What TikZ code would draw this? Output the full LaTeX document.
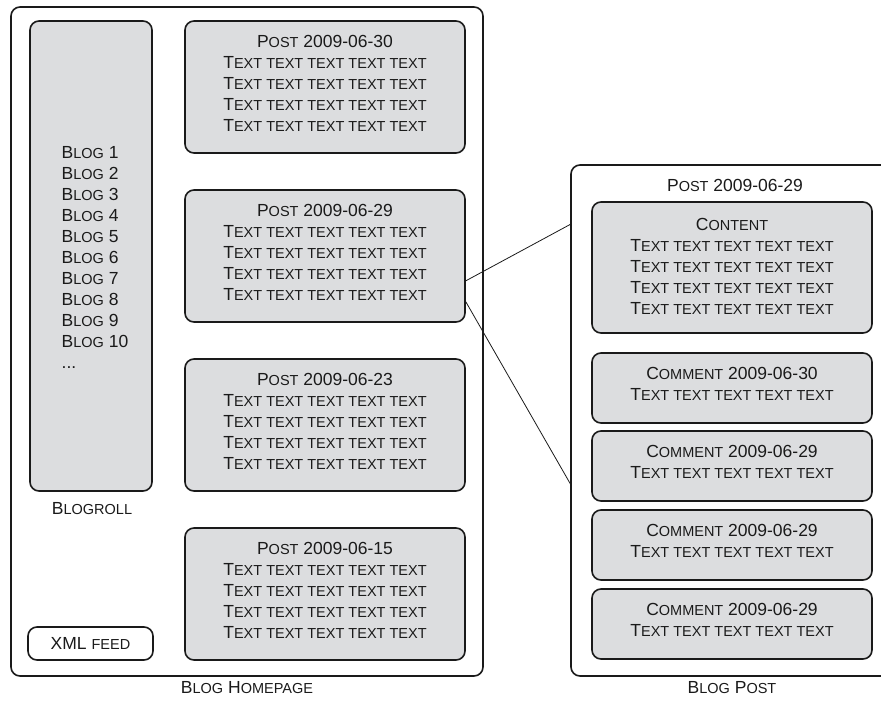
\documentclass[tikz,border=0pt]{standalone}
\usepackage{fontspec}
\setmainfont{Liberation Sans}
\definecolor{boxfill}{RGB}{220,221,223}
\definecolor{ink}{RGB}{26,26,26}
\newcommand{\smc}[1]{{\fontsize{14.5}{21}\selectfont #1}}
\newcommand{\txtline}{T\smc{EXT TEXT TEXT TEXT TEXT}}
\tikzset{
  outerbox/.style={draw=ink, line width=1.6pt, rounded corners=9pt},
  panel/.style={draw=ink, fill=boxfill, line width=1.6pt, rounded corners=9pt, align=center, inner sep=0pt, text depth=8pt},
  caption/.style={inner sep=0pt, align=center},
}
\begin{document}
\begin{tikzpicture}[x=1pt,y=1pt,yscale=-1,xscale=1,font=\fontsize{17.5}{21}\selectfont,text=ink]
\useasboundingbox (0,0) rectangle (881,704);

%Rounded Rect (homepage frame)
\draw [outerbox] (11,7) rectangle (483,676);
%Rounded Rect (post frame)
\draw [outerbox] (571,165) rectangle (895,676);

%Blogroll
\node [panel, minimum width=122pt, minimum height=470pt] (roll) at (91,256) {};
\node [caption, align=left] (rolllist) at (95,257) {B\smc{LOG} 1\\B\smc{LOG} 2\\B\smc{LOG} 3\\B\smc{LOG} 4\\B\smc{LOG} 5\\B\smc{LOG} 6\\B\smc{LOG} 7\\B\smc{LOG} 8\\B\smc{LOG} 9\\B\smc{LOG} 10\\...};
\node [caption] (rolllabel) at (92,509) {B\smc{LOGROLL}};
\node [panel, fill=white, text depth=, minimum width=125pt, minimum height=33pt] (feed) at (90.5,643.5) {XML \smc{FEED}};

%Posts
\node [panel, minimum width=280pt, minimum height=132pt] (post1) at (325,87) {P\smc{OST} 2009-06-30\\\txtline\\\txtline\\\txtline\\\txtline};
\node [panel, minimum width=280pt, minimum height=132pt] (post2) at (325,256) {P\smc{OST} 2009-06-29\\\txtline\\\txtline\\\txtline\\\txtline};
\node [panel, minimum width=280pt, minimum height=132pt] (post3) at (325,425) {P\smc{OST} 2009-06-23\\\txtline\\\txtline\\\txtline\\\txtline};
\node [panel, minimum width=280pt, minimum height=132pt] (post4) at (325,594) {P\smc{OST} 2009-06-15\\\txtline\\\txtline\\\txtline\\\txtline};
\node [caption] (homelabel) at (247,688) {B\smc{LOG} H\smc{OMEPAGE}};

%Blog post page
\node [caption] (posttitle) at (735,185) {P\smc{OST} 2009-06-29};
\node [panel, text depth=3pt, minimum width=280pt, minimum height=131pt] (content) at (732,267.5) {C\smc{ONTENT}\\\txtline\\\txtline\\\txtline\\\txtline};
\node [panel, minimum width=280pt, minimum height=70pt] (comment1) at (732,388) {C\smc{OMMENT} 2009-06-30\\\txtline};
\node [panel, minimum width=280pt, minimum height=70pt] (comment2) at (732,466) {C\smc{OMMENT} 2009-06-29\\\txtline};
\node [panel, minimum width=280pt, minimum height=70pt] (comment3) at (732,545) {C\smc{OMMENT} 2009-06-29\\\txtline};
\node [panel, minimum width=280pt, minimum height=70pt] (comment4) at (732,624) {C\smc{OMMENT} 2009-06-29\\\txtline};
\node [caption] (postlabel) at (732,688) {B\smc{LOG} P\smc{OST}};

%Straight Lines (zoom)
\coordinate (zoomtop) at (571,224);
\coordinate (zoombot) at (571,485);
\draw [ink, line width=0.8pt] (post2.-10.9) -- (zoomtop);
\draw [ink, line width=0.8pt] (post2.-18.6) -- (zoombot);

\end{tikzpicture}
\end{document}
